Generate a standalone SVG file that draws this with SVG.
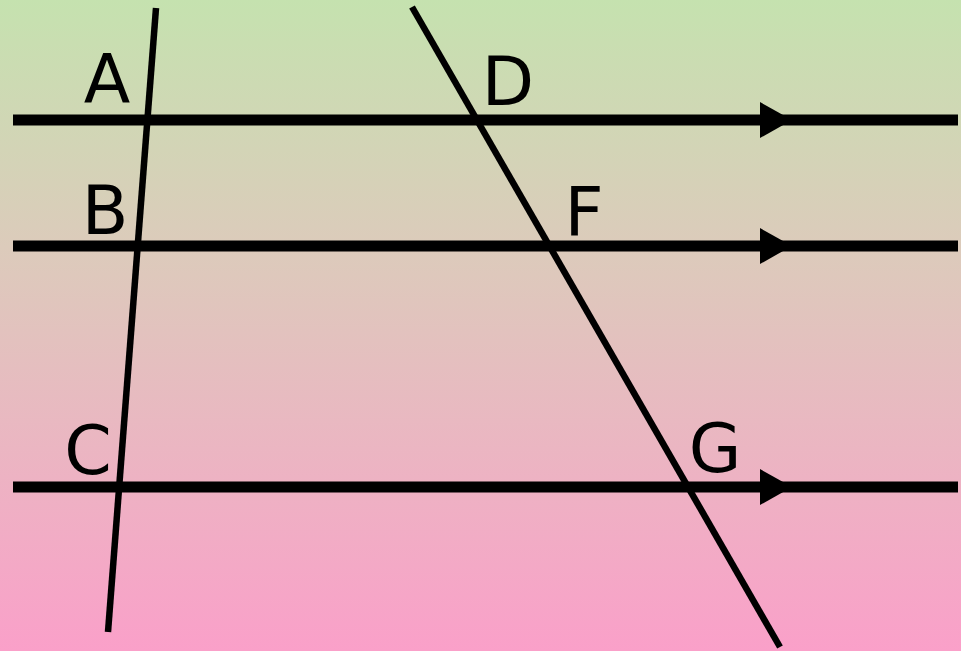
<svg xmlns="http://www.w3.org/2000/svg" width="961" height="651" viewBox="0 0 961 651">
<defs>
<linearGradient id="bg" x1="0" y1="0" x2="0" y2="1">
<stop offset="0" stop-color="#c5e2af"/>
<stop offset="0.38" stop-color="#dccbbb"/>
<stop offset="1" stop-color="#faa0c9"/>
</linearGradient>
<style>
.par{stroke:#000;stroke-width:11;fill:none}
.tr{stroke:#000;stroke-width:6.5;fill:none}
.arr{fill:#000}
.lbl{font-family:"Comic Sans MS","DejaVu Sans","Liberation Sans",sans-serif;font-size:68px;fill:#000;text-anchor:middle}
</style>
</defs>
<rect x="0" y="0" width="961" height="651" fill="url(#bg)"/>
<g id="connectors">
<line class="par" x1="13" y1="120" x2="958" y2="120"/>
<line class="par" x1="13" y1="246" x2="958" y2="246"/>
<line class="par" x1="13" y1="487" x2="958" y2="487"/>
<polygon class="arr" points="760,102 792,120 760,138"/>
<polygon class="arr" points="760,228 792,246 760,264"/>
<polygon class="arr" points="760,469 792,487 760,505"/>
<line class="tr" x1="156" y1="8" x2="108" y2="632"/>
<line class="tr" x1="412" y1="7" x2="780" y2="647"/>
</g>
<g id="A"><text class="lbl" x="107" y="103">A</text></g>
<g id="B"><text class="lbl" x="105" y="234">B</text></g>
<g id="C"><text class="lbl" x="88" y="474">C</text></g>
<g id="D"><text class="lbl" x="508" y="105">D</text></g>
<g id="F"><text class="lbl" x="584" y="236">F</text></g>
<g id="G"><text class="lbl" x="715" y="472">G</text></g>
</svg>
